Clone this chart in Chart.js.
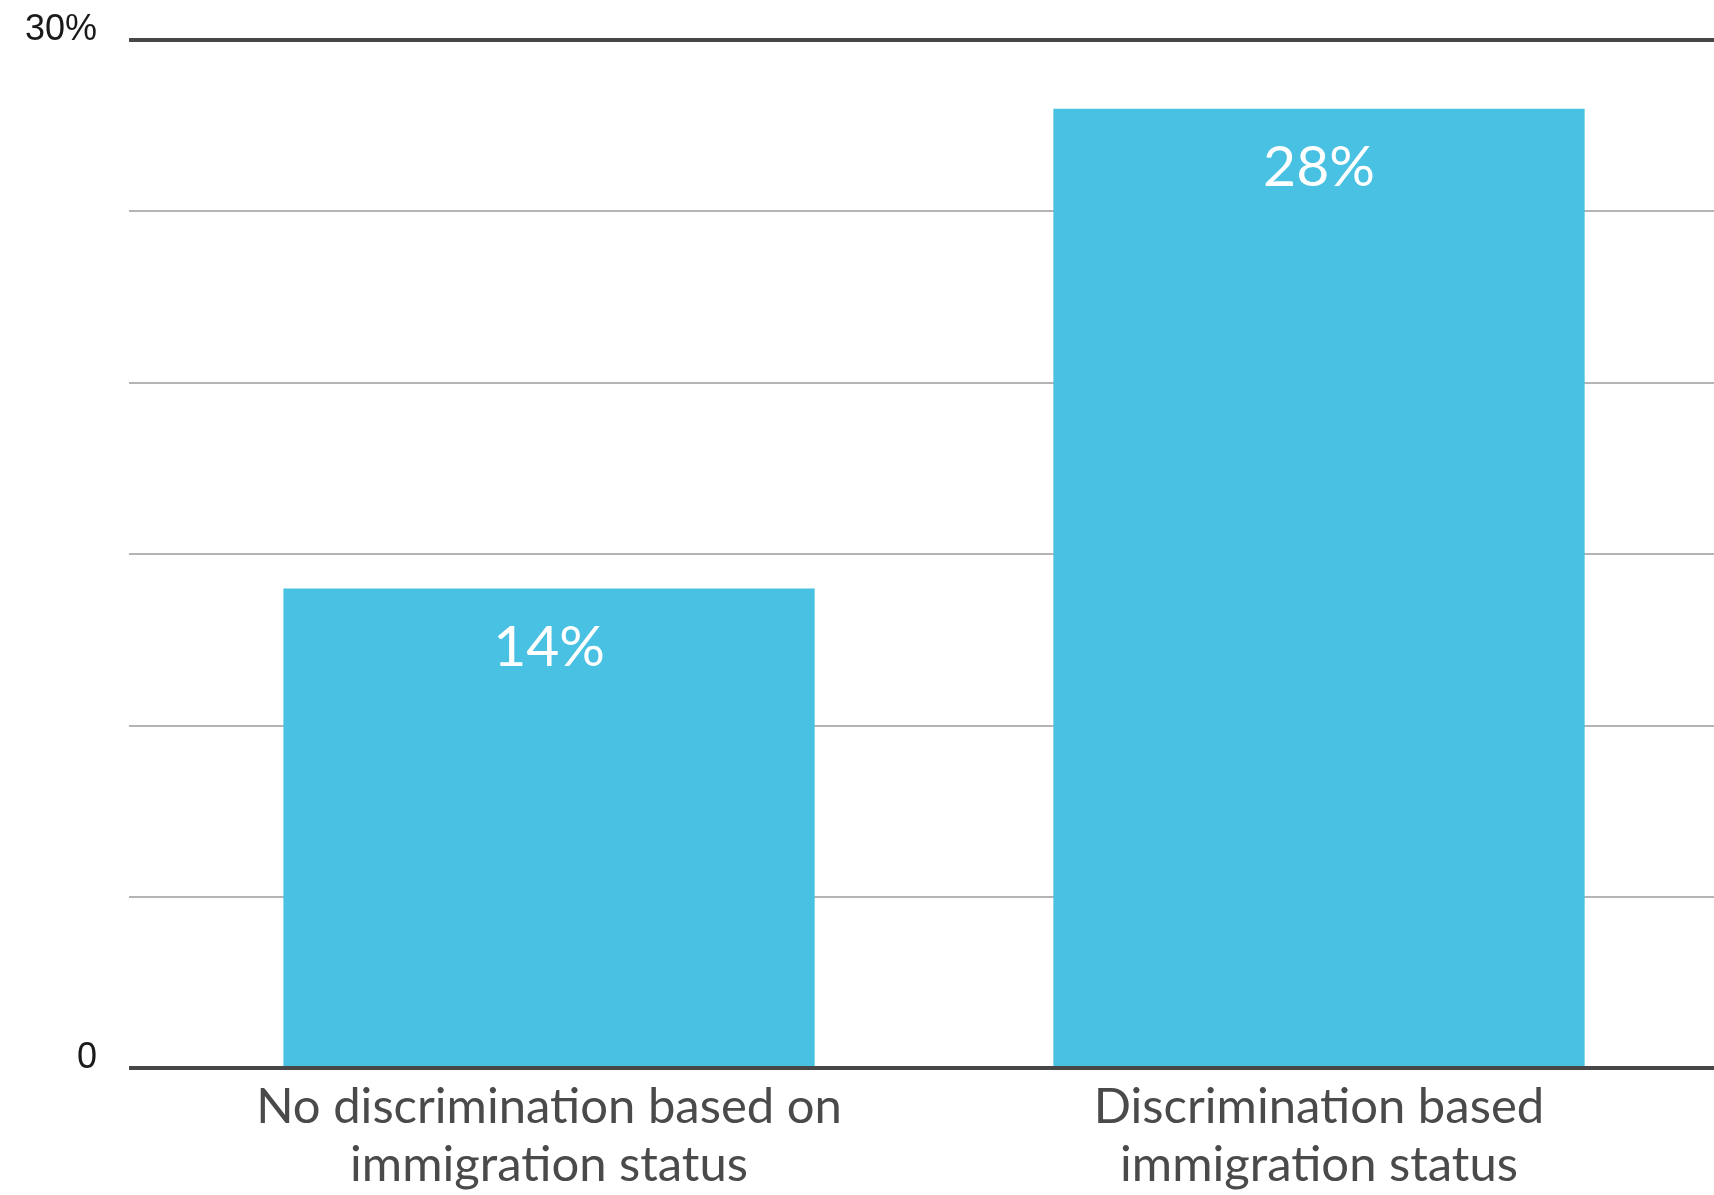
<!DOCTYPE html>
<html>
<head>
<meta charset="utf-8">
<script src="https://cdn.jsdelivr.net/npm/chart.js@4.4.1/dist/chart.umd.min.js"></script>
<style>
  body { margin: 0; background: #ffffff; }
  #chartBox { width: 1714px; height: 1195px; }
</style>
</head>
<body>
<div id="chartBox"><canvas id="immigBar" width="1714" height="1195"></canvas></div>
<script>
// data
const categories = [
  ['No discrimination based on', 'immigration status'],
  ['Discrimination based', 'immigration status']
];
const shareValues = [14, 28];
const yMin = 0;
const yMax = 30;
const yStep = 5;
const yTickLabels = ['0', '', '', '', '', '', '30%'];

const barBlue = '#48c1e2';
const darkLine = '#474747';
const lightLine = '#b4b4b4';

// top and bottom lines are heavy, the rest light
const isEdge = (ctx) => ctx.tick && (ctx.tick.value === yMin || ctx.tick.value === yMax);
const gridColor = (ctx) => isEdge(ctx) ? darkLine : lightLine;
const gridWidth = (ctx) => isEdge(ctx) ? 4 : 2;

// value text inside the bars
const barValueLabels = {
  id: 'barValueLabels',
  afterDatasetsDraw(chart) {
    const ctx = chart.ctx;
    const meta = chart.getDatasetMeta(0);
    ctx.save();
    ctx.fillStyle = '#ffffff';
    ctx.font = '57px Lato';
    ctx.textAlign = 'center';
    ctx.textBaseline = 'middle';
    meta.data.forEach((bar, i) => {
      ctx.fillText(shareValues[i] + '%', bar.x, bar.y + 59);
    });
    ctx.restore();
  }
};

const myData = {
  labels: categories,
  datasets: [{
    data: shareValues,
    backgroundColor: barBlue,
    categoryPercentage: 0.69,
    barPercentage: 1
  }]
};

const config = {
  type: 'bar',
  data: myData,
  options: {
    responsive: false,
    animation: false,
    layout: {
      padding: { top: 40, right: 0, bottom: -1, left: -7 }
    },
    plugins: {
      legend: { display: false },
      tooltip: { enabled: false }
    },
    scales: {
      x: {
        offset: true,
        grid: { display: false },
        border: { display: true, color: darkLine, width: 4, z: 1 },
        ticks: {
          color: '#4a4a4a',
          font: { family: 'Lato', size: 49, lineHeight: 1.18 },
          padding: 2,
          maxRotation: 0,
          autoSkip: false
        }
      },
      y: {
        min: yMin,
        max: yMax,
        border: { display: false },
        grid: { color: gridColor, lineWidth: gridWidth, drawTicks: true, tickLength: 35 },
        ticks: {
          stepSize: yStep,
          padding: 32,
          labelOffset: -10,
          color: '#1a1a1a',
          font: { family: 'Liberation Sans', size: 36, lineHeight: 0.45 },
          callback: (value, index) => yTickLabels[index]
        }
      },
      y2: {
        position: 'right',
        min: yMin,
        max: yMax,
        border: { display: false },
        grid: { color: gridColor, lineWidth: gridWidth, drawOnChartArea: false, drawTicks: true, tickLength: 10 },
        ticks: { display: false, stepSize: yStep }
      }
    }
  },
  plugins: [barValueLabels]
};

const immigBar = new Chart(document.getElementById('immigBar').getContext('2d'), config);
</script>
</body>
</html>
